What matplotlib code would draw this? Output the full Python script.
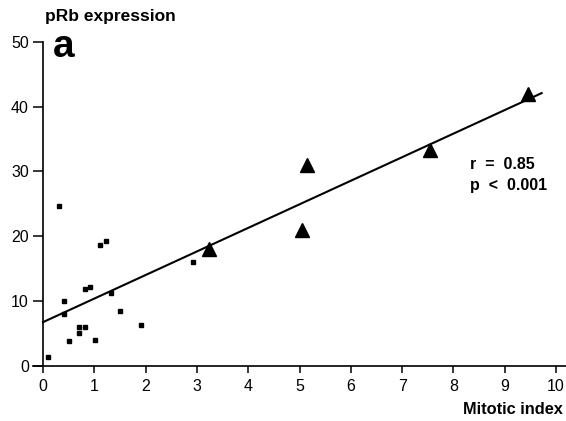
import matplotlib
matplotlib.use("Agg")
import matplotlib.pyplot as plt

# Data
sq_x = [0.31, 1.12, 1.23, 2.92, 0.82, 0.92, 0.41, 1.32, 0.40, 1.51, 1.92, 0.71, 0.81, 0.71, 0.51, 1.01, 0.10]
sq_y = [24.7, 18.6, 19.2, 16.0, 11.8, 12.2, 10.0, 11.2, 8.0, 8.5, 6.2, 6.0, 6.0, 5.1, 3.8, 4.0, 1.3]
tri_x = [3.24, 5.14, 5.04, 7.54, 9.45]
tri_y = [18.0, 31.0, 21.0, 33.3, 42.0]
fit_x = [0.0, 9.72]
fit_y = [6.7, 42.1]
xticks = list(range(0, 11))
yticks = [0, 10, 20, 30, 40, 50]

plt.rcParams['font.family'] = ['Liberation Sans', 'DejaVu Sans']

fig = plt.figure(figsize=(5.66, 4.21), dpi=100)
x0 = 43.0
ux = 51.3
left_px = x0 - 0.2 * ux
ax = fig.add_axes([left_px / 566, (421 - 365.5) / 421, (566 - left_px) / 566, 323.5 / 421])
ax.set_xlim(-0.2, (566 - x0) / ux)
ax.set_ylim(0, 50)

ax.plot(fit_x, fit_y, color='black', lw=1.5, zorder=2)
ax.plot(sq_x, sq_y, ls='none', marker='s', ms=3.4, color='black', zorder=3, clip_on=False)
ax.plot(tri_x, tri_y, ls='none', marker='^', ms=9.5, color='black', zorder=3, clip_on=False)

for s in ['top', 'right']:
    ax.spines[s].set_visible(False)
ax.spines['left'].set_position(('data', 0))
ax.spines['left'].set_linewidth(1.2)
ax.spines['bottom'].set_linewidth(1.2)

ax.set_xticks(xticks)
ax.set_yticks(yticks)
ax.tick_params(axis='x', direction='out', length=5, width=1.1, labelsize=11.5, pad=5)
ax.tick_params(axis='y', direction='out', length=7.2, width=1.1, labelsize=11.5, pad=3)

fig.text(45 / 566, 1 - 17 / 421, 'pRb expression', fontsize=12.5, fontweight='bold', va='center', ha='left')
fig.text(53 / 566, 1 - 47 / 421, 'a', fontsize=28, fontweight='bold', va='center', ha='left')
fig.text(563 / 566, 1 - 410 / 421, 'Mitotic index', fontsize=11.8, fontweight='bold', va='center', ha='right')
fig.text(470 / 566, 1 - 175 / 421, 'r  =  0.85\np  <  0.001', fontsize=11.5, fontweight='bold',
         va='center', ha='left', linespacing=1.55)

fig.savefig('out.png', dpi=100)
